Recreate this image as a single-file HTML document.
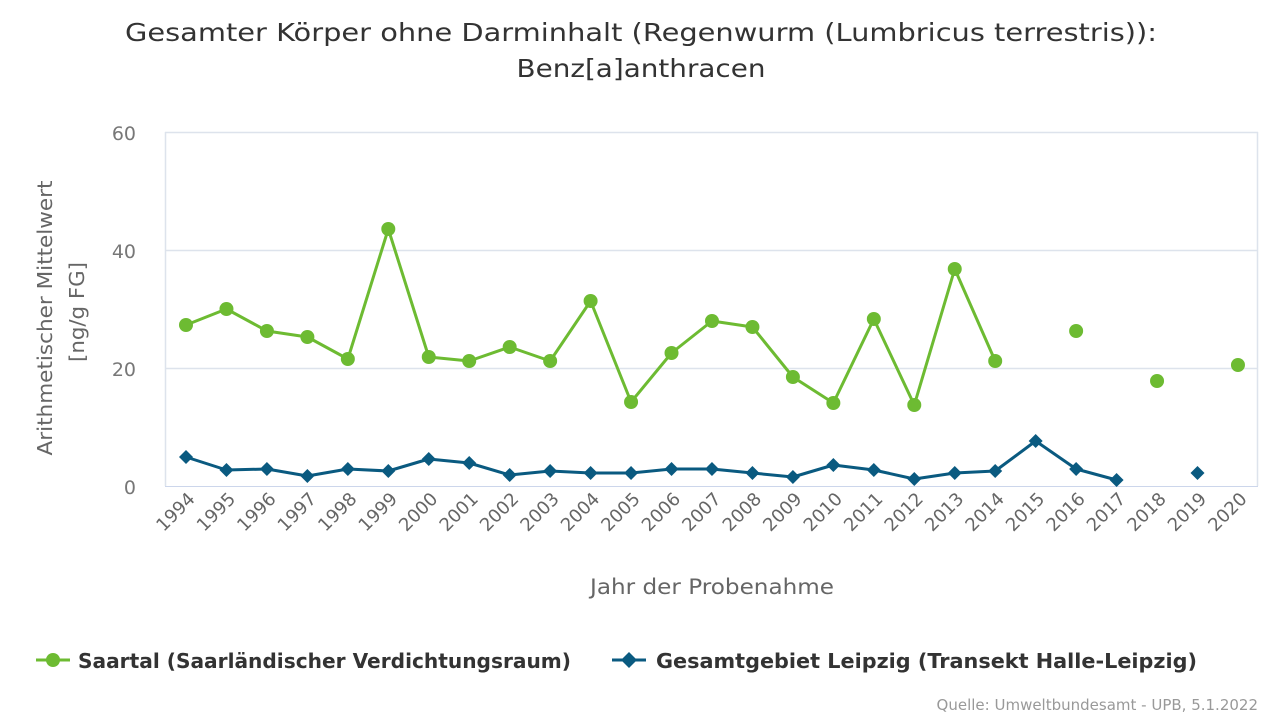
<!DOCTYPE html>
<html><head><meta charset="utf-8"><style>
body{margin:0;background:#fff;}
svg{display:block;font-family:"DejaVu Sans","Liberation Sans",sans-serif;}
</style></head><body>
<svg width="1280" height="720" viewBox="0 0 1280 720" xmlns="http://www.w3.org/2000/svg">
<rect width="1280" height="720" fill="#fff"/>
<text x="641" y="41" text-anchor="middle" font-size="25" fill="#333" textLength="1032" lengthAdjust="spacingAndGlyphs">Gesamter Körper ohne Darminhalt (Regenwurm (Lumbricus terrestris)):</text>
<text x="641" y="77" text-anchor="middle" font-size="25" fill="#333" textLength="249" lengthAdjust="spacingAndGlyphs">Benz[a]anthracen</text>
<g stroke="#dde3ec" stroke-width="1.5">
<line x1="165" y1="132.5" x2="1258" y2="132.5"/>
<line x1="165" y1="250.5" x2="1258" y2="250.5"/>
<line x1="165" y1="368.5" x2="1258" y2="368.5"/>
<line x1="165.5" y1="132" x2="165.5" y2="486"/>
<line x1="1257.5" y1="132" x2="1257.5" y2="486"/>
</g>
<line x1="165" y1="486.5" x2="1258" y2="486.5" stroke="#ccd6eb"/>
<g font-size="19" fill="#777" text-anchor="end">
<text x="136" y="140">60</text><text x="136" y="258">40</text><text x="136" y="376">20</text><text x="136" y="494">0</text>
</g>
<text transform="translate(52,318) rotate(-90)" text-anchor="middle" font-size="20" fill="#666" textLength="275" lengthAdjust="spacingAndGlyphs">Arithmetischer Mittelwert</text>
<text transform="translate(84,312) rotate(-90)" text-anchor="middle" font-size="20" fill="#666" textLength="100" lengthAdjust="spacingAndGlyphs">[ng/g FG]</text>
<g id="xl" font-size="18" fill="#666" text-anchor="end"></g>
<text x="712" y="594" text-anchor="middle" font-size="21" fill="#666" textLength="244" lengthAdjust="spacingAndGlyphs">Jahr der Probenahme</text>
<g id="s"></g>
<line x1="36" y1="660" x2="70" y2="660" stroke="#6dbb32" stroke-width="3"/>
<circle cx="53" cy="660" r="7" fill="#6dbb32"/>
<text x="78" y="668" font-size="20" font-weight="bold" fill="#333" textLength="493" lengthAdjust="spacingAndGlyphs">Saartal (Saarländischer Verdichtungsraum)</text>
<line x1="612" y1="660" x2="646" y2="660" stroke="#0a5a80" stroke-width="3"/>
<path d="M629 652 L637 660 L629 668 L621 660Z" fill="#0a5a80"/>
<text x="656" y="668" font-size="20" font-weight="bold" fill="#333" textLength="541" lengthAdjust="spacingAndGlyphs">Gesamtgebiet Leipzig (Transekt Halle-Leipzig)</text>
<text x="1258" y="710" text-anchor="end" font-size="15" fill="#999">Quelle: Umweltbundesamt - UPB, 5.1.2022</text>
</svg>
<script>
var ns="http://www.w3.org/2000/svg";
function X(i){return 186+i*40.46;}
var xl=document.getElementById('xl');
for(var i=0;i<27;i++){var t=document.createElementNS(ns,'text');var x=X(i)+10,y=500;
t.setAttribute('transform','translate('+x+','+y+') rotate(-45)');t.textContent=1994+i;xl.appendChild(t);}
var g=[325,309,331,337,359,229,357,361,347,361,301,402,353,321,327,377,403,319,405,269,361,null,331,null,381,null,365];
var b=[457,470,469,476,469,471,459,463,475,471,473,473,469,469,473,477,465,470,479,473,471,441,469,480,null,473,null];
var s=document.getElementById('s');
function line(arr,c){var d='',pen=false;for(var i=0;i<arr.length;i++){if(arr[i]==null){pen=false;continue;}d+=(pen?'L':'M')+X(i)+' '+arr[i]+' ';pen=true;}
var p=document.createElementNS(ns,'path');p.setAttribute('d',d);p.setAttribute('fill','none');p.setAttribute('stroke',c);p.setAttribute('stroke-width','3');p.setAttribute('stroke-linejoin','round');s.appendChild(p);}
line(g,'#6dbb32');line(b,'#0a5a80');
for(var i=0;i<27;i++){if(g[i]!=null){var c=document.createElementNS(ns,'circle');c.setAttribute('cx',X(i));c.setAttribute('cy',g[i]);c.setAttribute('r',7);c.setAttribute('fill','#6dbb32');s.appendChild(c);}
if(b[i]!=null){var p=document.createElementNS(ns,'path');var x=X(i),y=b[i];p.setAttribute('d','M'+x+' '+(y-7)+'L'+(x+7)+' '+y+'L'+x+' '+(y+7)+'L'+(x-7)+' '+y+'Z');p.setAttribute('fill','#0a5a80');s.appendChild(p);}}
</script>
</body></html>
